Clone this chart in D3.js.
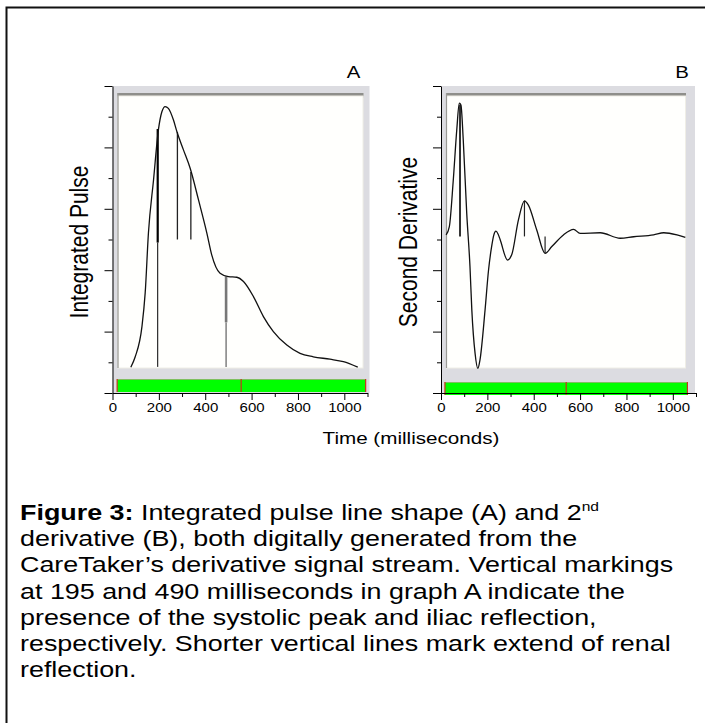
<!DOCTYPE html>
<html>
<head>
<meta charset="utf-8">
<script src="https://cdn.jsdelivr.net/npm/d3@7"></script>
<style>
  body { margin: 0; background: #fff; }
  text { font-family: Arial, "Liberation Sans", sans-serif; }
</style>
</head>
<body>
<script>

// ---- data ----
// graph A: integrated pulse (time in ms, amplitude in tick units)
const timeA  = [79, 98, 127, 141, 155, 177, 198, 213, 227, 241, 263, 278, 306, 335, 371, 407, 428, 464, 500, 536, 565, 608, 651, 694, 752, 809, 866, 938, 996, 1058];
const pulseA = [0.84, 1.18, 2.16, 3.26, 5.21, 6.94, 8.57, 9.16, 9.33, 9.27, 8.89, 8.51, 7.92, 7.32, 6.29, 5.21, 4.50, 3.90, 3.79, 3.77, 3.63, 3.14, 2.49, 2.00, 1.56, 1.29, 1.18, 1.10, 1.02, 0.84];

// graph B: second derivative
const timeB  = [22, 36, 53, 68, 79, 86, 96, 111, 125, 133, 147, 159, 168, 190, 205, 218, 228, 237, 246, 255, 287, 305, 334, 360, 377, 413, 449, 478, 528, 572, 600, 687, 773, 831, 917, 961, 1018, 1054];
const derivB = [5.15, 5.42, 6.94, 8.57, 9.44, 9.38, 8.24, 5.85, 4.12, 2.70, 1.29, 0.80, 1.07, 2.70, 4.00, 4.75, 5.15, 5.27, 5.18, 5.00, 4.33, 4.50, 5.64, 6.26, 6.12, 5.31, 4.55, 4.77, 5.15, 5.33, 5.20, 5.22, 5.04, 5.09, 5.15, 5.22, 5.15, 5.07];

// vertical markings: time, top, bottom, weight, colour
const marksA = [
  {t: 195, y1: 8.6, y2: 4.9, w: 2.2, c: '#000'},
  {t: 195, y1: 4.9, y2: 0.85, w: 1, c: '#000'},
  {t: 280, y1: 8.5, y2: 5.0, w: 1.3, c: '#222'},
  {t: 338, y1: 7.2, y2: 5.0, w: 1.3, c: '#222'},
  {t: 490, y1: 3.8, y2: 2.3, w: 2.6, c: '#777'},
  {t: 490, y1: 2.3, y2: 0.85, w: 1.4, c: '#777'}
];
const marksB = [
  {t: 82,  y1: 9.4,  y2: 5.1, w: 1.6, c: '#000'},
  {t: 360, y1: 6.26, y2: 5.1, w: 1.2, c: '#222'},
  {t: 449, y1: 5.1,  y2: 4.55, w: 1.2, c: '#222'}
];

// green status bar: start, split, end (ms)
const barA = [20, 555, 1092];
const barB = [17, 540, 1063];

// axis ticks
const xTicks = [0, 100, 200, 300, 400, 500, 600, 700, 800, 900, 1000, 1100];
const xLabels = [0, 200, 400, 600, 800, 1000];
const yTicks = [0, 1, 2, 3, 4, 5, 6, 7, 8, 9, 10];

const caption = [
  'derivative (B), both digitally generated from the',
  'CareTaker\u2019s derivative signal stream. Vertical markings',
  'at 195 and 490 milliseconds in graph A indicate the',
  'presence of the systolic peak and iliac reflection,',
  'respectively. Shorter vertical lines mark extend of renal',
  'reflection.'
];

// ---- layout ----
const width = 705, height = 723;
const plotW = 255, plotH = 307, plotTop = 86;
const stretch = 1.2;   // the figure's lettering is drawn wide

const svg = d3.select('body')
  .append('svg')
  .attr('width', width)
  .attr('height', height);

// page frame (runs off the right / bottom edge)
svg.append('rect')
  .attr('x', 6.5).attr('y', 7.5)
  .attr('width', 740).attr('height', 740)
  .attr('fill', 'none')
  .attr('stroke', '#111')
  .attr('stroke-width', 2);

// scales
const x = d3.scaleLinear().domain([0, 1100]).range([0, plotW]);
const y = d3.scaleLinear().domain([0, 10]).range([plotH, 0]);

const line = d3.line()
  .curve(d3.curveMonotoneX)
  .x(d => x(d[0]))
  .y(d => y(d[1]));

const panels = [
  {name: 'A', x0: 112.5, frameW: 257, innerW: 245, barY: 293, time: timeA, vals: pulseA, marks: marksA, bar: barA, label: 'Integrated Pulse', labelX: 88},
  {name: 'B', x0: 441, frameW: 254, innerW: 239, barY: 296, time: timeB, vals: derivB, marks: marksB, bar: barB, label: 'Second Derivative', labelX: 417}
];

panels.forEach(p => {
  const g = svg.append('g')
    .attr('transform', `translate(${p.x0}, ${plotTop})`);

  // grey widget frame
  g.append('rect')
    .attr('x', 0).attr('y', 0)
    .attr('width', p.frameW).attr('height', plotH)
    .attr('fill', '#dcdce1');
  g.append('rect')
    .attr('x', 5).attr('y', 7)
    .attr('width', p.innerW + 1).attr('height', 3)
    .attr('fill', '#8e8e8a');
  g.append('rect')
    .attr('x', 5).attr('y', 10)
    .attr('width', p.innerW + 1).attr('height', 1.5)
    .attr('fill', '#b9b9b4');
  g.append('rect')
    .attr('x', 5.5).attr('y', 10)
    .attr('width', p.innerW).attr('height', 272)
    .attr('fill', '#fffffd')
    .attr('stroke', '#efeee6');
  g.append('line')
    .attr('x1', 5.5).attr('x2', 5.5)
    .attr('y1', 7).attr('y2', 282)
    .attr('stroke', '#9a9a96')
    .attr('stroke-width', 1.2);

  // green bar with red markers
  g.append('rect')
    .attr('x', x(p.bar[0])).attr('y', p.barY)
    .attr('width', x(p.bar[2]) - x(p.bar[0])).attr('height', 13)
    .attr('fill', '#00ff00');
  g.append('rect')
    .attr('x', x(p.bar[0])).attr('y', p.barY)
    .attr('width', x(p.bar[2]) - x(p.bar[0])).attr('height', 1)
    .attr('fill', '#7fbf5f');
  g.selectAll('.redmark')
    .data(p.bar)
    .enter().append('line')
      .attr('class', 'redmark')
      .attr('x1', d => x(d)).attr('x2', d => x(d))
      .attr('y1', p.barY).attr('y2', p.barY + 13)
      .attr('stroke', '#c8321e')
      .attr('stroke-width', 1.2);

  // vertical markings
  g.selectAll('.mark')
    .data(p.marks)
    .enter().append('line')
      .attr('class', 'mark')
      .attr('x1', d => x(d.t)).attr('x2', d => x(d.t))
      .attr('y1', d => y(d.y1)).attr('y2', d => y(d.y2))
      .attr('stroke', d => d.c)
      .attr('stroke-width', d => d.w);

  // signal
  g.append('path')
    .datum(d3.zip(p.time, p.vals))
    .attr('fill', 'none')
    .attr('stroke', '#111')
    .attr('stroke-width', 1.3)
    .attr('d', line);

  // axes
  const yAxisGroup = g.append('g')
    .call(d3.axisLeft(y).tickValues(yTicks).tickFormat('').tickSizeOuter(0));
  yAxisGroup.selectAll('.tick line')
    .attr('x2', d => d % 2 === 0 ? -8 : -4);

  const xAxisGroup = g.append('g')
    .attr('transform', `translate(0, ${plotH})`)
    .call(d3.axisBottom(x)
      .tickValues(xTicks)
      .tickFormat(d => xLabels.includes(d) ? d : '')
      .tickSizeOuter(0)
      .tickPadding(4));
  xAxisGroup.selectAll('.tick line')
    .attr('y2', d => xLabels.includes(d) ? 7 : 4);
  xAxisGroup.selectAll('text')
    .attr('font-size', 12.5)
    .attr('fill', '#000')
    .attr('transform', `scale(${stretch},1)`)
    .style('font-family', 'Arial, "Liberation Sans", sans-serif');
  g.selectAll('.domain').attr('stroke', '#000');

  // panel letter
  svg.append('text')
    .attr('transform', `translate(${p.x0 + 241}, 78) scale(${stretch},1)`)
    .attr('text-anchor', 'middle')
    .attr('font-size', 17)
    .text(p.name);

  // y label
  svg.append('text')
    .attr('transform', `translate(${p.labelX}, 242) scale(${stretch},1) rotate(-90)`)
    .attr('text-anchor', 'middle')
    .attr('font-size', 21)
    .text(p.label);
});

// shared x label
svg.append('text')
  .attr('transform', `translate(411, 444) scale(${stretch},1)`)
  .attr('text-anchor', 'middle')
  .attr('font-size', 17.2)
  .text('Time (milliseconds)');

// caption
const capSize = 22.4;
const cap = svg.append('text')
  .attr('transform', `translate(20, 520) scale(${stretch},1)`)
  .attr('font-size', capSize);
cap.append('tspan').attr('font-weight', 'bold').text('Figure 3:');
cap.append('tspan').text(' Integrated pulse line shape (A) and 2');
cap.append('tspan').attr('font-size', 13).attr('dy', -9).text('nd');

svg.selectAll('.capline')
  .data(caption)
  .enter().append('text')
    .attr('class', 'capline')
    .attr('transform', (d, i) => `translate(20, ${546.2 + i * 26.2}) scale(${stretch},1)`)
    .attr('font-size', capSize)
    .text(d => d);

</script>
</body>
</html>
